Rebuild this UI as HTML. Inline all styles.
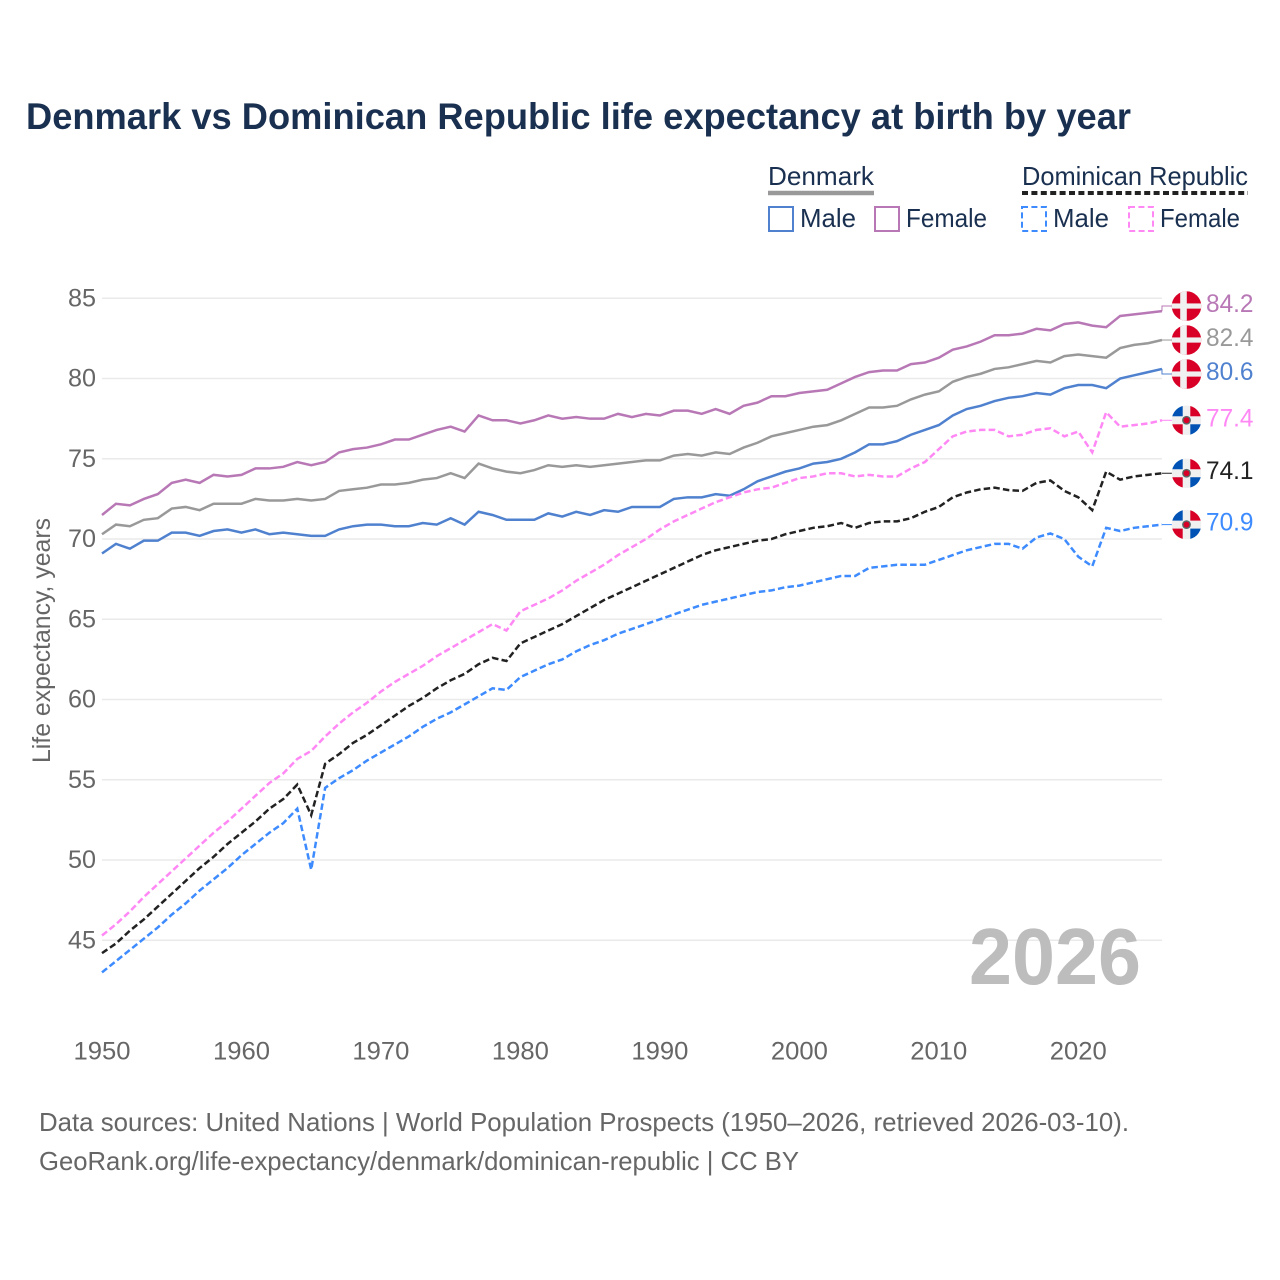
<!DOCTYPE html>
<html lang="en">
<head>
<meta charset="utf-8">
<title>Denmark vs Dominican Republic life expectancy at birth by year</title>
<style>
html,body{margin:0;padding:0;background:#fff;}
svg{display:block;font-family:"Liberation Sans",Arial,sans-serif;}
</style>
</head>
<body>
<svg id="chart" xmlns="http://www.w3.org/2000/svg" width="1280" height="1280" viewBox="0 0 1280 1280">
  <rect x="0" y="0" width="1280" height="1280" fill="#ffffff"/>
  <text x="26" y="129" font-size="37" font-weight="700" fill="#1a3050" textLength="1105" lengthAdjust="spacingAndGlyphs">Denmark vs Dominican Republic life expectancy at birth by year</text>

  <g>
    <text x="768" y="185" font-size="26" fill="#1a3050" textLength="106" lengthAdjust="spacingAndGlyphs">Denmark</text>
    <line x1="768" x2="874" y1="193" y2="193" stroke="#999999" stroke-width="4.5"/>
    <rect x="769" y="207" width="24" height="24" fill="none" stroke="#4f81cf" stroke-width="2"/>
    <text x="800" y="227" font-size="26" fill="#1a3050" textLength="56" lengthAdjust="spacingAndGlyphs">Male</text>
    <rect x="875" y="207" width="24" height="24" fill="none" stroke="#b878b6" stroke-width="2"/>
    <text x="906" y="227" font-size="26" fill="#1a3050" textLength="81" lengthAdjust="spacingAndGlyphs">Female</text>

    <text x="1022" y="185" font-size="26" fill="#1a3050" textLength="226" lengthAdjust="spacingAndGlyphs">Dominican Republic</text>
    <line x1="1022" x2="1248" y1="193" y2="193" stroke="#222222" stroke-width="4" stroke-dasharray="6 3.4"/>
    <rect x="1022" y="207" width="24" height="24" fill="none" stroke="#3d8bff" stroke-width="2" stroke-dasharray="6 3.4"/>
    <text x="1053" y="227" font-size="26" fill="#1a3050" textLength="56" lengthAdjust="spacingAndGlyphs">Male</text>
    <rect x="1129" y="207" width="24" height="24" fill="none" stroke="#ff88f5" stroke-width="2" stroke-dasharray="6 3.4"/>
    <text x="1160" y="227" font-size="26" fill="#1a3050" textLength="80" lengthAdjust="spacingAndGlyphs">Female</text>
  </g>

  <text transform="translate(50 640.5) rotate(-90)" text-anchor="middle" font-size="25" fill="#666666" textLength="245" lengthAdjust="spacingAndGlyphs">Life expectancy, years</text>

  <g id="grid"></g>
  <g id="y-ticks"></g>
  <g id="x-ticks"></g>

  <text x="969" y="984" font-size="80" font-weight="700" fill="#bdbdbd" textLength="172" lengthAdjust="spacingAndGlyphs">2026</text>

  <g id="series"></g>
  <g id="end-labels"></g>

  <text x="39" y="1131" font-size="26" fill="#666666" textLength="1090" lengthAdjust="spacingAndGlyphs">Data sources: United Nations | World Population Prospects (1950–2026, retrieved 2026-03-10).</text>
  <text x="39" y="1170" font-size="26" fill="#666666" textLength="760" lengthAdjust="spacingAndGlyphs">GeoRank.org/life-expectancy/denmark/dominican-republic | CC BY</text>
</svg>

<script>
const startYear = 1950;
const yTickLabels = [45, 50, 55, 60, 65, 70, 75, 80, 85];
const xTickLabels = [1950, 1960, 1970, 1980, 1990, 2000, 2010, 2020];

const denmarkFemale = [71.5,72.2,72.1,72.5,72.8,73.5,73.7,73.5,74.0,73.9,74.0,74.4,74.4,74.5,74.8,74.6,74.8,75.4,75.6,75.7,75.9,76.2,76.2,76.5,76.8,77.0,76.7,77.7,77.4,77.4,77.2,77.4,77.7,77.5,77.6,77.5,77.5,77.8,77.6,77.8,77.7,78.0,78.0,77.8,78.1,77.8,78.3,78.5,78.9,78.9,79.1,79.2,79.3,79.7,80.1,80.4,80.5,80.5,80.9,81.0,81.3,81.8,82.0,82.3,82.7,82.7,82.8,83.1,83.0,83.4,83.5,83.3,83.2,83.9,84.0,84.1,84.2];
const denmarkAll = [70.3,70.9,70.8,71.2,71.3,71.9,72.0,71.8,72.2,72.2,72.2,72.5,72.4,72.4,72.5,72.4,72.5,73.0,73.1,73.2,73.4,73.4,73.5,73.7,73.8,74.1,73.8,74.7,74.4,74.2,74.1,74.3,74.6,74.5,74.6,74.5,74.6,74.7,74.8,74.9,74.9,75.2,75.3,75.2,75.4,75.3,75.7,76.0,76.4,76.6,76.8,77.0,77.1,77.4,77.8,78.2,78.2,78.3,78.7,79.0,79.2,79.8,80.1,80.3,80.6,80.7,80.9,81.1,81.0,81.4,81.5,81.4,81.3,81.9,82.1,82.2,82.4];
const denmarkMale = [69.1,69.7,69.4,69.9,69.9,70.4,70.4,70.2,70.5,70.6,70.4,70.6,70.3,70.4,70.3,70.2,70.2,70.6,70.8,70.9,70.9,70.8,70.8,71.0,70.9,71.3,70.9,71.7,71.5,71.2,71.2,71.2,71.6,71.4,71.7,71.5,71.8,71.7,72.0,72.0,72.0,72.5,72.6,72.6,72.8,72.7,73.1,73.6,73.9,74.2,74.4,74.7,74.8,75.0,75.4,75.9,75.9,76.1,76.5,76.8,77.1,77.7,78.1,78.3,78.6,78.8,78.9,79.1,79.0,79.4,79.6,79.6,79.4,80.0,80.2,80.4,80.6];
const dominicanFemale = [45.3,46.0,46.8,47.7,48.5,49.3,50.1,50.9,51.7,52.4,53.2,54.0,54.8,55.4,56.3,56.8,57.7,58.5,59.2,59.8,60.5,61.1,61.6,62.1,62.7,63.2,63.7,64.2,64.7,64.3,65.5,65.9,66.3,66.8,67.4,67.9,68.4,69.0,69.5,70.0,70.6,71.1,71.5,71.9,72.3,72.6,72.9,73.1,73.2,73.5,73.8,73.9,74.1,74.1,73.9,74.0,73.9,73.9,74.4,74.8,75.6,76.4,76.7,76.8,76.8,76.4,76.5,76.8,76.9,76.4,76.7,75.4,77.9,77.0,77.1,77.2,77.4];
const dominicanAll = [44.2,44.8,45.6,46.3,47.1,47.9,48.7,49.5,50.2,51.0,51.7,52.4,53.2,53.8,54.7,52.8,56.0,56.6,57.3,57.8,58.4,59.0,59.6,60.1,60.7,61.2,61.6,62.2,62.6,62.4,63.5,63.9,64.3,64.7,65.2,65.7,66.2,66.6,67.0,67.4,67.8,68.2,68.6,69.0,69.3,69.5,69.7,69.9,70.0,70.3,70.5,70.7,70.8,71.0,70.7,71.0,71.1,71.1,71.3,71.7,72.0,72.6,72.9,73.1,73.2,73.05,73.0,73.5,73.65,73.0,72.6,71.8,74.2,73.7,73.9,74.0,74.1];
const dominicanMale = [43.0,43.7,44.4,45.1,45.8,46.6,47.3,48.1,48.8,49.5,50.3,51.0,51.7,52.3,53.2,49.4,54.5,55.1,55.6,56.2,56.7,57.2,57.7,58.3,58.8,59.2,59.7,60.2,60.7,60.6,61.4,61.8,62.2,62.5,63.0,63.4,63.7,64.1,64.4,64.7,65.0,65.3,65.6,65.9,66.1,66.3,66.5,66.7,66.8,67.0,67.1,67.3,67.5,67.7,67.7,68.2,68.3,68.4,68.4,68.4,68.7,69.0,69.3,69.5,69.7,69.7,69.4,70.1,70.35,70.0,68.9,68.3,70.7,70.5,70.7,70.8,70.9];

const seriesDefs = [
  {key:'denmark-female', values:denmarkFemale, color:'#b878b6', dashed:false, flag:'dk', labelColor:'#b878b6'},
  {key:'denmark-all', values:denmarkAll, color:'#999999', dashed:false, flag:'dk', labelColor:'#999999'},
  {key:'denmark-male', values:denmarkMale, color:'#4f81cf', dashed:false, flag:'dk', labelColor:'#4f81cf'},
  {key:'dominican-female', values:dominicanFemale, color:'#ff88f5', dashed:true, flag:'do', labelColor:'#ff88f5'},
  {key:'dominican-all', values:dominicanAll, color:'#222222', dashed:true, flag:'do', labelColor:'#222222'},
  {key:'dominican-male', values:dominicanMale, color:'#3d8bff', dashed:true, flag:'do', labelColor:'#3d8bff'}
];

const NS = 'http://www.w3.org/2000/svg';
const xScale = function (year) { return 102 + (year - startYear) * 13.947; };
const yScale = function (v) { return 298.3 + (85 - v) * 16.05; };
const lastYear = startYear + denmarkFemale.length - 1;

function make(tag, attrs, parent) {
  const el = document.createElementNS(NS, tag);
  Object.keys(attrs).forEach(function (k) { el.setAttribute(k, attrs[k]); });
  parent.appendChild(el);
  return el;
}

const grid = document.getElementById('grid');
const yTicks = document.getElementById('y-ticks');
const xTicks = document.getElementById('x-ticks');
const seriesGroup = document.getElementById('series');
const labelsGroup = document.getElementById('end-labels');

yTickLabels.forEach(function (t) {
  const ln = make('line', {x1: xScale(startYear), x2: xScale(lastYear), y1: yScale(t), y2: yScale(t), stroke: '#eaeaea', 'stroke-width': 1.5}, grid);
  
  
  const tx = make('text', {x: 68, y: yScale(t) + 8, 'font-size': 25, fill: '#666666', textLength: 28, lengthAdjust: 'spacingAndGlyphs'}, yTicks);
  
  
  tx.textContent = String(t);
});

xTickLabels.forEach(function (t) {
  const tx = make('text', {x: xScale(t), y: 1059.5, 'text-anchor': 'middle', 'font-size': 25, fill: '#666666', textLength: 57, lengthAdjust: 'spacingAndGlyphs'}, xTicks);
  
  
  tx.textContent = String(t);
});

/* spread end labels so flags do not overlap */
function dodge(ys, gap) {
  let clusters = ys.map(function (y, i) { return {ids: [i], c: y}; }).sort(function (a, b) { return a.c - b.c; });
  let merged = true;
  while (merged) {
    merged = false;
    for (let i = 0; i < clusters.length - 1; i++) {
      const a = clusters[i], b = clusters[i + 1];
      const aEnd = a.c + (a.ids.length - 1) * gap / 2;
      const bStart = b.c - (b.ids.length - 1) * gap / 2;
      if (bStart - aEnd < gap) {
        const ids = a.ids.concat(b.ids);
        const c = (a.c * a.ids.length + b.c * b.ids.length) / ids.length;
        clusters.splice(i, 2, {ids: ids, c: c});
        merged = true;
        break;
      }
    }
  }
  const out = [];
  clusters.forEach(function (cl) {
    cl.ids.forEach(function (id, k) {
      out[id] = cl.c + (k - (cl.ids.length - 1) / 2) * gap;
    });
  });
  return out;
}

const endYs = seriesDefs.map(function (s) { return yScale(s.values[s.values.length - 1]); });
const labelYs = dodge(endYs, 34);

function drawFlag(kind, cx, cy, name) {
  const g = make('g', {}, labelsGroup);
  
  
  const r = 14.8;
  const clipId = 'clip-' + name;
  const clip = make('clipPath', {id: clipId}, g);
  make('circle', {cx: cx, cy: cy, r: r}, clip);
  const inner = make('g', {'clip-path': 'url(#' + clipId + ')'}, g);
  if (kind === 'dk') {
    make('rect', {x: cx - r, y: cy - r, width: 2 * r, height: 2 * r, fill: '#d80027'}, inner);
    make('rect', {x: cx - 6.3, y: cy - r, width: 6.6, height: 2 * r, fill: '#f0f0f0'}, inner);
    make('rect', {x: cx - r, y: cy - 2.6, width: 2 * r, height: 5.2, fill: '#f0f0f0'}, inner);
  } else {
    make('rect', {x: cx - r, y: cy - r, width: 2 * r, height: 2 * r, fill: '#f0f0f0'}, inner);
    make('rect', {x: cx - r, y: cy - r, width: r - 3.8, height: r - 4, fill: '#0052b4'}, inner);
    make('rect', {x: cx + 3.8, y: cy - r, width: r - 3.8, height: r - 4, fill: '#d80027'}, inner);
    make('rect', {x: cx - r, y: cy + 4, width: r - 3.8, height: r - 4, fill: '#d80027'}, inner);
    make('rect', {x: cx + 3.8, y: cy + 4, width: r - 3.8, height: r - 4, fill: '#0052b4'}, inner);
    make('circle', {cx: cx, cy: cy, r: 4.4, fill: '#5a6a6a'}, inner);
    make('circle', {cx: cx, cy: cy, r: 3, fill: '#d80027'}, inner);
  }
}

seriesDefs.forEach(function (s, i) {
  const pts = s.values.map(function (v, k) {
    return xScale(startYear + k).toFixed(2) + ',' + yScale(v).toFixed(2);
  }).join(' ');
  const line = make('polyline', {points: pts, fill: 'none', stroke: s.color, 'stroke-width': 2.5, 'stroke-linejoin': 'miter'}, seriesGroup);
  
  
  if (s.dashed) line.setAttribute('stroke-dasharray', '6.5 3.2');

  const ly = labelYs[i];
  const ex = xScale(lastYear);
  const conn = make('polyline', {points: ex + ',' + endYs[i].toFixed(2) + ' ' + ex + ',' + ly.toFixed(2) + ' 1172,' + ly.toFixed(2), fill: 'none', stroke: s.color, 'stroke-width': 1}, labelsGroup);
  
  

  drawFlag(s.flag, 1186.5, ly, 'flag-' + s.key);

  const label = make('text', {x: 1206, y: ly + 6, 'font-size': 25, fill: s.labelColor, textLength: 47.5, lengthAdjust: 'spacingAndGlyphs'}, labelsGroup);
  
  
  label.textContent = s.values[s.values.length - 1].toFixed(1);
});
</script>
</body>
</html>
